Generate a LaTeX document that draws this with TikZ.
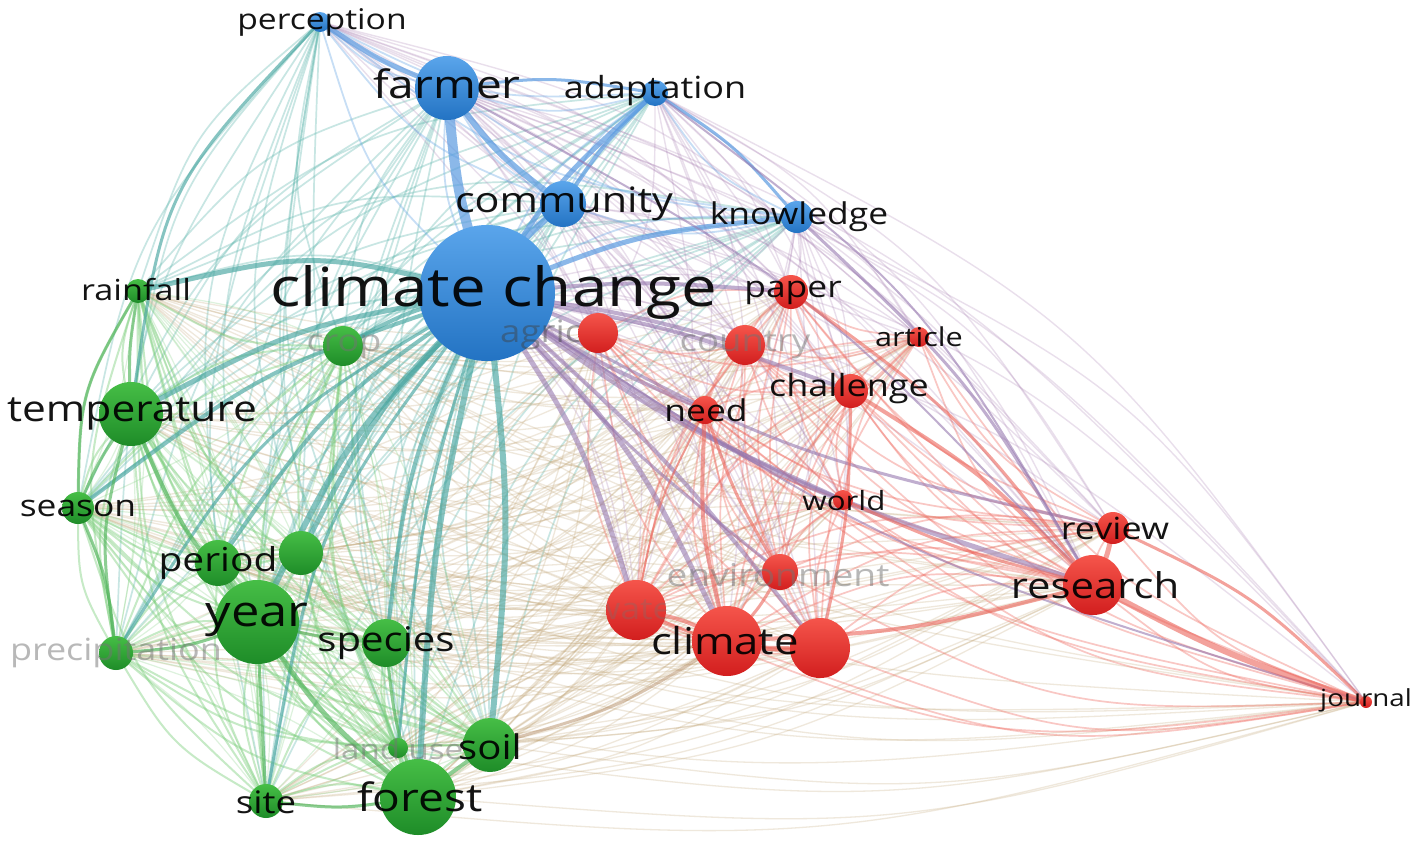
\documentclass[tikz,border=0pt]{standalone}
\usepackage{fontspec}
\setmainfont{Open Sans}
\usetikzlibrary{calc}
\begin{document}
\begin{tikzpicture}[x=1pt,y=-1pt,
  bn/.style={circle,inner sep=0pt,top color={rgb,255:red,90;green,165;blue,235},bottom color={rgb,255:red,35;green,115;blue,195},draw=none},
  rn/.style={circle,inner sep=0pt,top color={rgb,255:red,245;green,85;blue,75},bottom color={rgb,255:red,210;green,30;blue,30},draw=none},
  gn/.style={circle,inner sep=0pt,top color={rgb,255:red,70;green,190;blue,70},bottom color={rgb,255:red,30;green,140;blue,40},draw=none},
  lab/.style={inner sep=0pt,text=black,opacity=0.92},
  flab/.style={inner sep=0pt,text=black!55,opacity=0.5},
  eB/.style={draw={rgb,255:red,110;green,170;blue,230},opacity=0.38,line width=1.8pt},
  eR/.style={draw={rgb,255:red,240;green,110;blue,100},opacity=0.38,line width=1.7pt},
  eG/.style={draw={rgb,255:red,120;green,205;blue,120},opacity=0.42,line width=2pt},
  eBG/.style={draw={rgb,255:red,90;green,180;blue,170},opacity=0.33,line width=1.7pt},
  eBR/.style={draw={rgb,255:red,170;green,130;blue,180},opacity=0.25,line width=1.4pt},
  eRG/.style={draw={rgb,255:red,190;green,160;blue,110},opacity=0.24,line width=1.3pt},
  tB/.style={draw={rgb,255:red,90;green,155;blue,225},opacity=0.7},
  tR/.style={draw={rgb,255:red,235;green,100;blue,90},opacity=0.6},
  tG/.style={draw={rgb,255:red,80;green,180;blue,90},opacity=0.65},
  tBG/.style={draw={rgb,255:red,70;green,165;blue,160},opacity=0.65},
  tBR/.style={draw={rgb,255:red,150;green,120;blue,175},opacity=0.6},
  tRG/.style={draw={rgb,255:red,180;green,140;blue,100},opacity=0.5}
]
\useasboundingbox (0,0) rectangle (1418,865);
\fill[white] (0,0) rectangle (1418,865);
\newcommand\st[1]{\scalebox{1.18}[1]{#1}}
\newcommand\fs[1]{\fontsize{#1}{#1}\selectfont}
% curved edge: style, from, to, bend factor (positive = bend right)
\newcommand\ce[4]{\draw[#1] let \p1=(#2), \p2=(#3) in (#2) .. controls ({(\x1+\x2)/2+#4*(\y2-\y1)},{(\y1+\y2)/2-#4*(\x2-\x1)}) .. (#3);}
% coordinates (node centres)
\coordinate (perc) at (320,22);
\coordinate (farm) at (447,88);
\coordinate (adap) at (655,93);
\coordinate (comm) at (563,204);
\coordinate (know) at (797,217);
\coordinate (cc) at (487,293);
\coordinate (paper) at (791,292);
\coordinate (agri) at (598,333);
\coordinate (country) at (745,345);
\coordinate (article) at (919,337);
\coordinate (chal) at (851,391);
\coordinate (need) at (705,410);
\coordinate (world) at (843,500);
\coordinate (review) at (1113,528);
\coordinate (research) at (1093,585);
\coordinate (env) at (780,572);
\coordinate (water) at (636,610);
\coordinate (climate) at (727,641);
\coordinate (gnode) at (820,648);
\coordinate (journal) at (1366,702);
\coordinate (rain) at (138,291);
\coordinate (crop) at (343,346);
\coordinate (temp) at (131,414);
\coordinate (season) at (78,508);
\coordinate (gx) at (301,553);
\coordinate (period) at (218,563);
\coordinate (year) at (257,622);
\coordinate (species) at (386,643);
\coordinate (precip) at (116,653);
\coordinate (land) at (398,748);
\coordinate (soil) at (490,745);
\coordinate (forest) at (418,797);
\coordinate (site) at (266,801);
\def\Blist{perc,farm,adap,comm,know,cc}
\def\Rlist{paper,agri,country,article,chal,need,world,review,research,env,water,climate,gnode,journal}
\def\Glist{rain,crop,temp,season,gx,period,year,species,precip,land,soil,forest,site}
% faint edges
\foreach \a in \Blist {\foreach \b in \Glist {\ce{eBG}{\a}{\b}{0.14}}}
\foreach \a in \Glist {\foreach \b in \Rlist {\ce{eRG}{\a}{\b}{0.09}}}
\foreach \a in \Blist {\foreach \b in \Rlist {\ce{eBR}{\a}{\b}{-0.12}}}
\foreach \a [count=\i] in \Glist {\foreach \b [count=\j] in \Glist {\ifnum\j>\i \ce{eG}{\a}{\b}{0.13}\ce{eG,opacity=0.25,line width=1.2pt}{\a}{\b}{-0.06}\fi}}
\foreach \a [count=\i] in \Rlist {\foreach \b [count=\j] in \Rlist {\ifnum\j>\i \ce{eR}{\a}{\b}{0.13}\fi}}
\foreach \a [count=\i] in \Blist {\foreach \b [count=\j] in \Blist {\ifnum\j>\i \ce{eB}{\a}{\b}{0.13}\fi}}
% strong edges
\ce{tB,line width=10pt}{farm}{cc}{0.05}
\ce{tB,line width=6pt}{farm}{comm}{0.07}
\ce{tB,line width=5pt}{perc}{farm}{0.05}
\ce{tB,line width=6pt}{comm}{cc}{0.07}
\ce{tB,line width=5pt}{adap}{cc}{0.07}
\ce{tB,line width=3pt}{farm}{adap}{-0.07}
\ce{tB,line width=4pt}{adap}{comm}{0.05}
\ce{tB,line width=5pt}{know}{cc}{0.07}
\ce{tB,line width=3pt}{adap}{know}{-0.07}
\ce{tBG,line width=5pt}{rain}{cc}{-0.12}
\ce{tBG,line width=5pt}{temp}{cc}{-0.08}
\ce{tBG,line width=6pt}{cc}{year}{0.08}
\ce{tBG,line width=4pt}{cc}{period}{0.09}
\ce{tBG,line width=4pt}{cc}{species}{0.08}
\ce{tBG,line width=6pt}{cc}{soil}{-0.05}
\ce{tBG,line width=6pt}{cc}{forest}{0.04}
\ce{tBG,line width=4pt}{cc}{crop}{0.07}
\ce{tBG,line width=4pt}{cc}{season}{0.08}
\ce{tBG,line width=5pt}{cc}{gx}{0.07}
\ce{tBG,line width=3pt}{cc}{site}{0.12}
\ce{tBG,line width=3pt}{cc}{precip}{0.12}
\ce{tBG,line width=3pt}{cc}{land}{0.05}
\ce{tBG,line width=3pt}{perc}{temp}{0.16}
\ce{tBR,line width=5pt}{cc}{climate}{-0.08}
\ce{tBR,line width=5pt}{cc}{water}{-0.07}
\ce{tBR,line width=5pt}{cc}{research}{0.07}
\ce{tBR,line width=4pt}{cc}{world}{0.05}
\ce{tBR,line width=4pt}{cc}{need}{0.04}
\ce{tBR,line width=4pt}{cc}{chal}{-0.04}
\ce{tBR,line width=4pt}{cc}{paper}{-0.04}
\ce{tBR,line width=4pt}{cc}{country}{-0.03}
\ce{tBR,line width=4pt}{cc}{agri}{-0.03}
\ce{tBR,line width=4pt}{cc}{gnode}{-0.04}
\ce{tBR,line width=3pt}{cc}{env}{0.04}
\ce{tBR,line width=3pt}{cc}{review}{0.07}
\ce{tBR,line width=2pt}{cc}{journal}{0.07}
\ce{tBR,line width=3pt}{know}{research}{-0.07}
\ce{tBR,line width=2pt}{adap}{research}{-0.1}
\ce{tBR,line width=2pt}{farm}{research}{-0.08}
\ce{tR,line width=6pt}{research}{journal}{0.04}
\ce{tR,line width=5pt}{research}{review}{0.07}
\ce{tR,line width=4pt}{climate}{research}{0.05}
\ce{tR,line width=4pt}{climate}{water}{0.07}
\ce{tR,line width=4pt}{climate}{gnode}{0.07}
\ce{tR,line width=3pt}{water}{gnode}{0.1}
\ce{tR,line width=3pt}{climate}{env}{0.07}
\ce{tR,line width=4pt}{climate}{need}{-0.07}
\ce{tR,line width=3pt}{env}{need}{-0.05}
\ce{tR,line width=3pt}{gnode}{chal}{0.05}
\ce{tR,line width=3pt}{paper}{research}{-0.07}
\ce{tR,line width=3pt}{world}{research}{0.04}
\ce{tR,line width=3pt}{review}{journal}{-0.08}
\ce{tR,line width=2pt}{water}{need}{-0.07}
\ce{tR,line width=4pt}{chal}{research}{-0.06}
\ce{tG,line width=5pt}{year}{forest}{0.07}
\ce{tG,line width=4pt}{year}{temp}{-0.07}
\ce{tG,line width=4pt}{year}{period}{0}
\ce{tG,line width=3pt}{year}{precip}{-0.07}
\ce{tG,line width=4pt}{forest}{soil}{0}
\ce{tG,line width=3pt}{forest}{species}{-0.05}
\ce{tG,line width=3pt}{temp}{rain}{-0.05}
\ce{tG,line width=3pt}{temp}{season}{0.05}
\ce{tG,line width=3pt}{year}{site}{0}
\ce{tG,line width=3pt}{forest}{site}{-0.07}
\ce{tG,line width=3pt}{temp}{precip}{0.1}
\ce{tG,line width=3pt}{season}{precip}{-0.07}
\ce{tG,line width=3pt}{rain}{season}{0.13}
\ce{tG,line width=3pt}{species}{year}{-0.04}
\ce{tRG,line width=3pt}{soil}{climate}{0.07}
% nodes
\node[bn,minimum size=20pt] (perc-n) at (perc) {};
\node[bn,minimum size=64pt] (farm-n) at (farm) {};
\node[bn,minimum size=26pt] (adap-n) at (adap) {};
\node[bn,minimum size=46pt] (comm-n) at (comm) {};
\node[bn,minimum size=32pt] (know-n) at (know) {};
\node[rn,minimum size=34pt] (paper-n) at (paper) {};
\node[rn,minimum size=40pt] (country-n) at (country) {};
\node[rn,minimum size=20pt] (article-n) at (article) {};
\node[rn,minimum size=34pt] (chal-n) at (chal) {};
\node[rn,minimum size=28pt] (need-n) at (need) {};
\node[rn,minimum size=20pt] (world-n) at (world) {};
\node[rn,minimum size=32pt] (review-n) at (review) {};
\node[rn,minimum size=60pt] (research-n) at (research) {};
\node[rn,minimum size=36pt] (env-n) at (env) {};
\node[rn,minimum size=12pt] (journal-n) at (journal) {};
\node[gn,minimum size=24pt] (rain-n) at (rain) {};
\node[gn,minimum size=40pt] (crop-n) at (crop) {};
\node[gn,minimum size=64pt] (temp-n) at (temp) {};
\node[gn,minimum size=32pt] (season-n) at (season) {};
\node[gn,minimum size=46pt] (period-n) at (period) {};
\node[gn,minimum size=44pt] (gx-n) at (gx) {};
\node[gn,minimum size=84pt] (year-n) at (year) {};
\node[gn,minimum size=48pt] (species-n) at (species) {};
\node[gn,minimum size=34pt] (precip-n) at (precip) {};
\node[gn,minimum size=20pt] (land-n) at (land) {};
\node[gn,minimum size=54pt] (soil-n) at (soil) {};
\node[gn,minimum size=76pt] (forest-n) at (forest) {};
\node[gn,minimum size=34pt] (site-n) at (site) {};
\node[bn,minimum size=136pt] (cc-n) at (cc) {};
\begin{scope}
\clip (480,300) rectangle (598,370);
\node[inner sep=0pt,text=black!75,opacity=0.45,font=\fs{31},anchor=west] (agri-l) at (500,334) {\st{agriculture}};
\end{scope}
\node[rn,minimum size=40pt] (agri-n) at (agri) {};
\node[rn,minimum size=60pt] (water-n) at (water) {};
\begin{scope}
\clip (water) circle (30);
\node[flab,font=\fs{30},opacity=0.3] (water-l) at (640,610) {\st{water}};
\end{scope}
\node[rn,minimum size=70pt] (climate-n) at (climate) {};
\node[rn,minimum size=60pt] (gnode-n) at (gnode) {};
% labels
\node[lab,font=\fs{28.5}] (perc-l) at (322,22) {\st{perception}};
\node[lab,font=\fs{39}] (farm-l) at (447,84) {\st{farmer}};
\node[lab,font=\fs{30.5}] (adap-l) at (655,91) {\st{adaptation}};
\node[lab,font=\fs{35}] (comm-l) at (564,204) {\st{community}};
\node[lab,font=\fs{30}] (know-l) at (799,217) {\st{knowledge}};
\node[lab,font=\fs{54}] (cc-l) at (494,292) {\st{climate change}};
\node[lab,font=\fs{30}] (paper-l) at (793,293) {\st{paper}};
\node[flab,font=\fs{31}] (country-l) at (745,345) {\st{country}};
\node[lab,font=\fs{26}] (article-l) at (919,337) {\st{article}};
\node[lab,font=\fs{30.5}] (chal-l) at (849,389) {\st{challenge}};
\node[lab,font=\fs{30}] (need-l) at (706,410) {\st{need}};
\node[lab,font=\fs{26.5}] (world-l) at (844,501) {\st{world}};
\node[lab,font=\fs{30.5}] (review-l) at (1115,528) {\st{review}};
\node[lab,font=\fs{35.5}] (research-l) at (1095,585) {\st{research}};
\node[flab,font=\fs{31.5}] (env-l) at (778,575) {\st{environment}};
\node[lab,font=\fs{37}] (climate-l) at (725,641) {\st{climate}};
\node[lab,font=\fs{23.5}] (journal-l) at (1366,700) {\st{journal}};
\node[lab,font=\fs{29}] (rain-l) at (136,290) {\st{rainfall}};
\node[flab,font=\fs{30.5}] (crop-l) at (344,347) {\st{crop}};
\node[lab,font=\fs{36}] (temp-l) at (132,414) {\st{temperature}};
\node[lab,font=\fs{30}] (season-l) at (78,508) {\st{season}};
\node[lab,font=\fs{33}] (period-l) at (218,563) {\st{period}};
\node[lab,font=\fs{43}] (year-l) at (257,620) {\st{year}};
\node[lab,font=\fs{34}] (species-l) at (386,643) {\st{species}};
\node[flab,font=\fs{30.5}] (precip-l) at (116,653) {\st{precipitation}};
\node[flab,font=\fs{28}] (land-l) at (398,749) {\st{land use}};
\node[lab,font=\fs{34}] (soil-l) at (490,747) {\st{soil}};
\node[lab,font=\fs{39}] (forest-l) at (420,797) {\st{forest}};
\node[lab,font=\fs{31}] (site-l) at (266,802) {\st{site}};
\end{tikzpicture}
\end{document}
